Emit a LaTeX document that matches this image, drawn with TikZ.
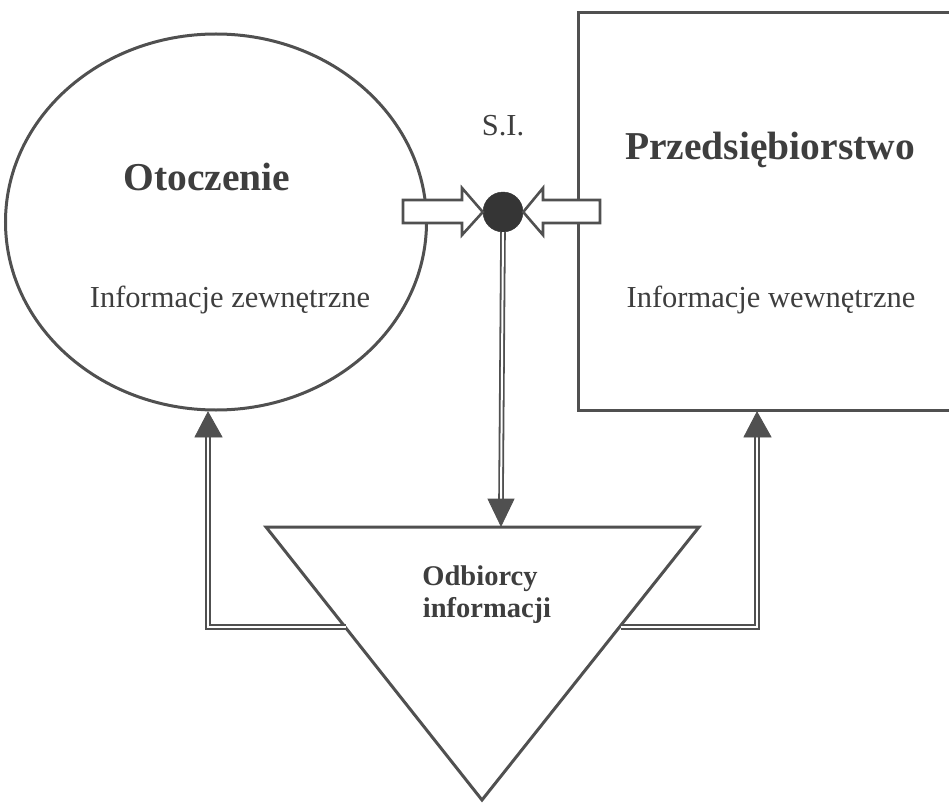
\documentclass[tikz,border=0pt]{standalone}
\usepackage{fontspec}
\setmainfont{Liberation Serif}
\usetikzlibrary{shapes.geometric}
\definecolor{ink}{HTML}{505050}
\definecolor{txt}{HTML}{3E3E3E}
\definecolor{dotc}{HTML}{353535}
\begin{document}
\begin{tikzpicture}[x=1pt,y=-1pt,
  outline/.style={draw=ink,line width=3pt},
  conn/.style={draw=ink,double=white,double distance=2pt,line width=1.8pt,line join=miter},
  head/.style={fill=ink,draw=ink,line width=0.8pt,line join=miter},
  blockarrow/.style={draw=ink,fill=white,line width=2.6pt,line join=miter},
  bigtxt/.style={text=txt,anchor=base,inner sep=0pt,font=\fontsize{39.5}{44}\selectfont\bfseries},
  midtxt/.style={text=txt,anchor=base,inner sep=0pt,font=\fontsize{30.5}{34}\selectfont},
  boldtxt/.style={text=txt,anchor=base,inner sep=0pt,font=\fontsize{28.5}{34}\selectfont\bfseries}]
\useasboundingbox (0,0) rectangle (949,802);
% shapes
\node[ellipse,outline,minimum width=421pt,minimum height=376pt,inner sep=0pt] (env) at (216,222) {};
\draw[outline] (965,13) -- (578,13) -- (578,410) -- (965,410);
\coordinate (t1) at (266,527);
\coordinate (t2) at (699,527);
\coordinate (t3) at (482,800);
\draw[outline,line join=miter] (t1) -- (t2) -- (t3) -- cycle;
% dot
\node[circle,fill=dotc,draw=dotc,minimum size=40pt,inner sep=0pt] (si) at (503,212) {};
% block arrows
\draw[blockarrow] (403,200) -- (462,200) -- (462,188) -- (si.west) -- (462,235) -- (462,223) -- (403,223) -- cycle;
\draw[blockarrow] (600,200) -- (543,200) -- (543,188) -- (si.east) -- (543,235) -- (543,223) -- (600,223) -- cycle;
% texts
\node[midtxt] (silab) at (503,136) {S.I.};
\node[bigtxt] (otlab) at (207,191) {Otoczenie};
\node[midtxt] (zlab) at (230,307) {Informacje zewnętrzne};
\node[bigtxt] (prlab) at (770,160) {Przedsiębiorstwo};
\node[midtxt] (wlab) at (771,307) {Informacje wewnętrzne};
\node[boldtxt] (odb1) at (480,585) {Odbiorcy};
\node[boldtxt] (odb2) at (487,617) {informacji};
% connectors
\coordinate (dtip) at (501,526);
\coordinate (dbase) at (501,499);
\draw[conn] (si.south) -- (dbase);
\fill[head] (dtip) -- (488,499) -- (514,499) -- cycle;
\coordinate (ltip) at (208,412);
\coordinate (lbase) at (208,437);
\coordinate (lstart) at (346,627);
\draw[conn] (lstart) -- (208,627) -- (lbase);
\fill[head] (ltip) -- (195,437) -- (222,437) -- cycle;
\coordinate (rtip) at (757,412);
\coordinate (rbase) at (757,437);
\coordinate (rstart) at (621,627);
\draw[conn] (rstart) -- (757,627) -- (rbase);
\fill[head] (rtip) -- (744,437) -- (771,437) -- cycle;
\end{tikzpicture}
\end{document}
